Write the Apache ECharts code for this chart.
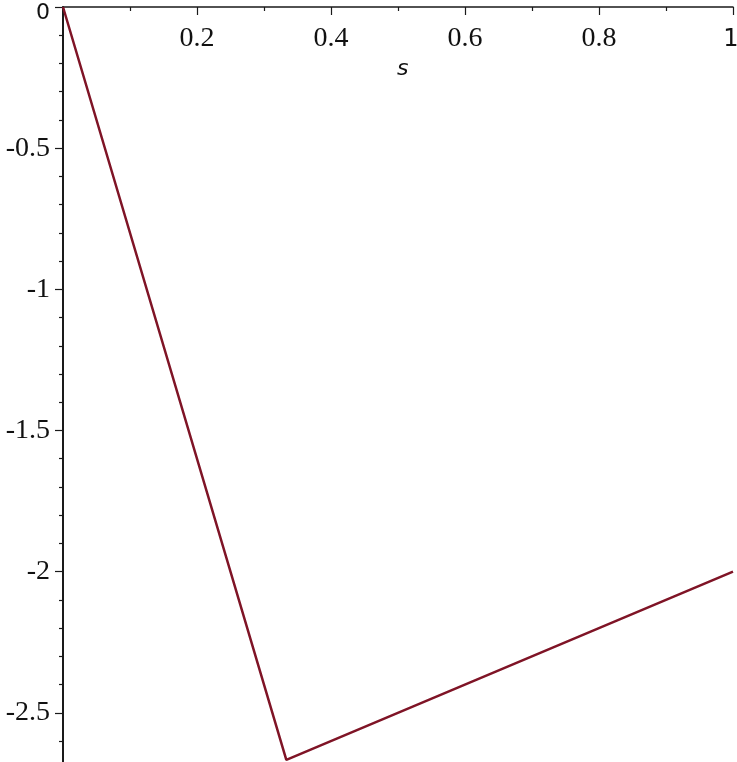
<!DOCTYPE html>
<html>
<head>
<meta charset="utf-8">
<script src="https://cdn.jsdelivr.net/npm/echarts@6/dist/echarts.min.js"></script>
<style>
  html, body { margin: 0; padding: 0; background: #fff; }
  #chart { width: 737px; height: 762px; }
</style>
</head>
<body>
<div id="chart"></div>
<script>
// piecewise curve
const sValues = [0, 1 / 3, 1];
const yValues = [0, -8 / 3, -2];
const xTickLabels = ['', '0.2', '0.4', '0.6', '0.8', '1'];
const yTickLabels = ['0', '-0.5', '-1', '-1.5', '-2', '-2.5'];

const serif = '"Liberation Serif", "Times New Roman", serif';
const sans = '"DejaVu Sans", sans-serif';

function initChart() {
  const container = document.getElementById('chart');
  const chart = echarts.init(container, null, { renderer: 'canvas' });

  const option = {
    backgroundColor: '#fff',
    animation: false,
    title: {
      text: 's',
      left: 392,
      top: 53,
      textStyle: { fontFamily: sans, fontStyle: 'italic', fontWeight: 'normal', fontSize: 22, color: '#111' }
    },
    grid: {
      left: 63,
      right: 4,
      top: 7,
      bottom: -92,   // axis runs on to -3 so ticks line up; the plot stops at -8/3
      containLabel: false,
      outerBoundsMode: 'none'
    },
    xAxis: {
      type: 'value',
      position: 'top',
      min: 0,
      max: 1,
      interval: 0.2,
      axisLine: { onZero: false, lineStyle: { color: '#1a1a1a', width: 1.5 } },
      axisTick: { inside: true, length: 8, lineStyle: { color: '#1a1a1a', width: 1.2 } },
      minorTick: { show: true, splitNumber: 2, length: 4, lineStyle: { color: '#1a1a1a', width: 1.2 } },
      splitLine: { show: false },
      axisLabel: {
        inside: true,
        margin: 18,
        fontFamily: serif,
        fontSize: 28,
        color: '#111',
        formatter: function (v) {
          const i = Math.round(v / 0.2);
          const t = xTickLabels[i] || '';
          if (t === '1') return '{s|1}';
          return t;
        },
        rich: { s: { fontFamily: sans, fontSize: 24, color: '#111', padding: [3, 4, 0, 0] } }
      }
    },
    yAxis: {
      type: 'value',
      min: -3,
      max: 0,
      interval: 0.5,
      axisLine: { onZero: false, lineStyle: { color: '#1a1a1a', width: 2 } },
      axisTick: { length: 8, lineStyle: { color: '#1a1a1a', width: 1.2 } },
      minorTick: { show: true, splitNumber: 5, length: 4, lineStyle: { color: '#1a1a1a', width: 1.2 } },
      splitLine: { show: false },
      axisLabel: {
        margin: 13,
        fontFamily: serif,
        fontSize: 28,
        color: '#111',
        formatter: function (v) {
          const i = Math.round(-v / 0.5);
          const t = yTickLabels[i] || '';
          if (t === '0') return '{z|0}';
          return t;
        },
        rich: { z: { fontFamily: sans, fontSize: 22, color: '#111', padding: [12, 0, 0, 0] } }
      }
    },
    series: [
      {
        type: 'line',
        data: sValues.map((s, i) => [s, yValues[i]]),
        symbol: 'none',
        lineStyle: { color: '#7f1426', width: 2.5 }
      }
    ]
  };

  chart.setOption(option);
}

initChart();
</script>
</body>
</html>
